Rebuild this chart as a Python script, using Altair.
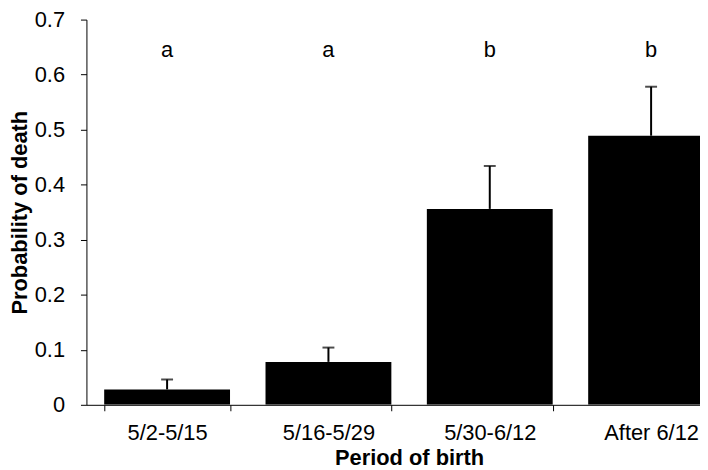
import altair as alt
import pandas as pd

periods = ["5/2-5/15", "5/16-5/29", "5/30-6/12", "After 6/12"]
prob = [0.028, 0.078, 0.356, 0.489]
upper = [0.046, 0.104, 0.434, 0.578]
letters = ["a", "a", "b", "b"]
y_ticks = [0, 0.1, 0.2, 0.3, 0.4, 0.5, 0.6, 0.7]

df = pd.DataFrame({"period": periods, "prob": prob, "upper": upper, "letter": letters})

FONT = "Liberation Sans"

xscale = alt.Scale(domain=periods, range=[0, 650], paddingInner=0.22, paddingOuter=0.11)
yscale = alt.Scale(domain=[0, 0.7], nice=False, zero=True)

x_enc = alt.X(
    "period:N", sort=periods, scale=xscale, title="Period of birth",
    axis=alt.Axis(labelAngle=0, tickBand="extent", tickSize=6, labelPadding=12,
                  titleX=325, titleY=60, titleBaseline="alphabetic", labelOverlap=False,
                  labelFlush=False),
)
y_enc = alt.Y(
    "prob:Q", scale=yscale, title="Probability of death",
    axis=alt.Axis(values=y_ticks, format=".1~f", tickSize=6, labelPadding=16,
                  titleX=-77, titleBaseline="top"),
)

bars = alt.Chart(df).mark_bar(color="black", clip=True).encode(x=x_enc, y=y_enc)

err = alt.Chart(df).mark_rule(color="black", strokeWidth=2).encode(
    x=alt.X("period:N", sort=periods, scale=xscale),
    y=alt.Y("prob:Q", scale=yscale),
    y2="upper:Q",
)
cap = alt.Chart(df).mark_tick(color="black", thickness=2, size=12).encode(
    x=alt.X("period:N", sort=periods, scale=xscale),
    y=alt.Y("upper:Q", scale=yscale),
)
txt = alt.Chart(df).mark_text(font=FONT, fontSize=22, baseline="middle", color="black").encode(
    x=alt.X("period:N", sort=periods, scale=xscale),
    y=alt.datum(0.645),
    text="letter:N",
)

chart = (
    alt.layer(bars, err, cap, txt)
    .properties(
        width=618, height=388,
        autosize=alt.AutoSizeParams(type="none"),
        padding={"left": 79, "top": 10, "right": 0, "bottom": 64},
    )
    .configure_view(stroke=None)
    .configure_axis(
        grid=False, domainColor="black", tickColor="black", labelColor="black",
        titleColor="black", labelFont=FONT, titleFont=FONT, labelFontSize=22,
        titleFontSize=22, titleFontWeight="bold", domainWidth=1, tickWidth=1,
    )
)

chart.save("out.html", embed_options={"renderer": "svg", "actions": False})
